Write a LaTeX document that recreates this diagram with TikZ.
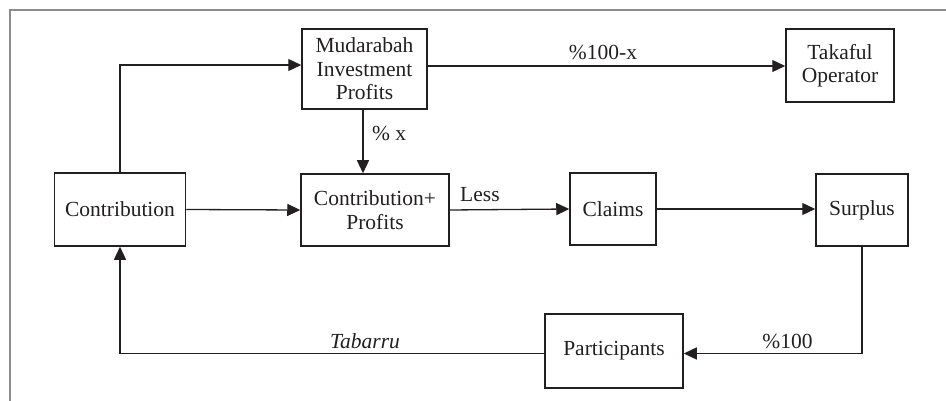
\documentclass[tikz,border=0pt]{standalone}
\usepackage{fontspec}
\setmainfont{Liberation Serif}
\usetikzlibrary{arrows.meta}
\definecolor{ink}{HTML}{231F20}
\tikzset{
  box/.style={draw=ink, line width=1.5pt, text=ink, inner sep=0pt, align=center,
    font=\fontsize{21.5}{23.5}\selectfont},
  lbl/.style={text=ink, inner sep=0pt, font=\fontsize{21.5}{23.5}\selectfont},
  conn/.style={draw=ink, line width=1.3pt, -{Triangle[length=13pt,width=12pt]}},
  plain/.style={draw=ink, line width=1.3pt}
}
\begin{document}
\begin{tikzpicture}[x=1pt,y=-1pt]
\useasboundingbox (0,0) rectangle (946,401);
\draw[gray!90, line width=1.5pt] (10,401) -- (10,10) -- (946,10);

\node[box, minimum width=131pt, minimum height=73pt] (cont) at (120,209.5) {Contribution};
\node[box, minimum width=125pt, minimum height=80pt] (mud) at (364.5,69) {Mudarabah\\Investment\\Profits};
\node[box, minimum width=108pt, minimum height=73pt] (tak) at (840,65.5) {Takaful\\Operator};
\node[box, minimum width=148pt, minimum height=72pt] (cp) at (375,210) {Contribution+\\Profits};
\node[box, minimum width=86pt, minimum height=72pt] (claims) at (613,209) {Claims};
\node[box, minimum width=92pt, minimum height=72pt] (surplus) at (862,210) {Surplus};
\node[box, minimum width=138pt, minimum height=74pt] (part) at (614,351) {Participants};

\coordinate (bl) at (120,353.5);
\coordinate (br) at (862,353.5);

\draw[conn] (cont.north) |- ([yshift=4pt]mud.west);
\draw[conn] ([yshift=3pt]mud.east) -- ([yshift=3pt]mud.east -| tak.west);
\draw[conn] (mud.south -| cp.north) ++(-12pt,0) coordinate (mx) -- (mx |- cp.north);
\draw[conn] (cont.east) -- (cp.west);
\draw[conn] (cp.east) -- (claims.west);
\draw[conn] (claims.east) -- (claims.east -| surplus.west);
\draw[plain] (surplus.south) -- (br);
\draw[conn] (br) -- (br -| part.east);
\draw[plain] (part.west |- bl) -- (bl);
\draw[conn] (bl) -- (cont.south);

\node[lbl, anchor=base] (l1) at (603,60) {\%100-x};
\node[lbl, anchor=base west] (l2) at (372,141) {\% x};
\node[lbl, anchor=base west] (l3) at (460,202) {Less};
\node[lbl, anchor=base] (l4) at (365,348) {\itshape Tabarru};
\node[lbl, anchor=base] (l5) at (787.5,348) {\%100};
\end{tikzpicture}
\end{document}
